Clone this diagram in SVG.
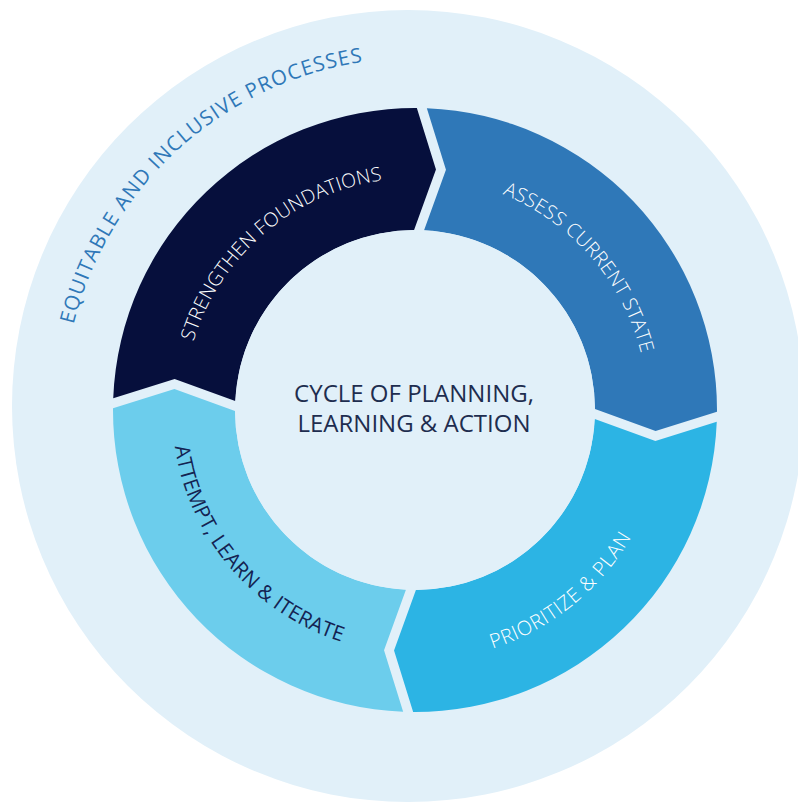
<svg xmlns="http://www.w3.org/2000/svg" xmlns:xlink="http://www.w3.org/1999/xlink" width="798" height="804" viewBox="0 0 798 804">
  <style>
    .bg { fill: #e1f0f9; }
    .s-found { fill: #060f3c; }
    .s-assess { fill: #2f78b8; }
    .s-prior { fill: #2cb4e4; }
    .s-attempt { fill: #6ccdec; }
    .lbl { font-family: "Open Sans", "Liberation Sans", sans-serif; font-size: 19.5px; }
    .light { fill: #ffffff; font-weight: 300; }
    .dark { fill: #142352; font-weight: 400; font-size: 20.5px; }
    .big { font-size: 20px; }
    .outer-lbl { font-family: "Open Sans", "Liberation Sans", sans-serif; font-size: 20.5px; fill: #2f78b8; }
    .center-lbl { font-family: "Open Sans", "Liberation Sans", sans-serif; font-size: 24px; fill: #1e2d4f; text-anchor: middle; }
  </style>
  <defs>
    <!-- one ring segment (quarter), drawn for the top-right quadrant around the origin:
         notch on the start edge, arrow tip on the clockwise end edge -->
    <path id="seg" d="M5,-301.96 A302,302 0 0 1 301.96,-5 L241,15.5 L179.93,-5 A180,180 0 0 0 5,-179.93 L25.5,-241 Z"/>
    <!-- label baselines -->
    <path id="arc-outer" d="M63.3,423.8 A352,352 0 0 1 462.5,61.2"/>
    <path id="arc-found" d="M183.0,412.0 A232,232 0 0 1 453.3,181.2"/>
    <path id="arc-assess" d="M410.9,177.0 A233,233 0 0 1 645.1,446.4"/>
    <path id="arc-prior" d="M366.0,656.2 A251,251 0 0 0 665.9,415.5"/>
    <path id="arc-attempt" d="M175.3,369.9 A243,243 0 0 0 417.1,653.0"/>
  </defs>

  <!-- outer band -->
  <g id="outer-band">
    <circle class="bg" cx="408" cy="406" r="396"/>
    <text class="outer-lbl"><textPath href="#arc-outer" startOffset="50%" text-anchor="middle" textLength="414" lengthAdjust="spacing">EQUITABLE AND INCLUSIVE PROCESSES</textPath></text>
  </g>

  <g id="strengthen-foundations">
    <use href="#seg" class="s-found" transform="translate(415 410) rotate(271.3)"/>
    <text class="lbl light"><textPath href="#arc-found" startOffset="50%" text-anchor="middle" textLength="262" lengthAdjust="spacing">STRENGTHEN FOUNDATIONS</textPath></text>
  </g>

  <g id="assess-current-state">
    <use href="#seg" class="s-assess" transform="translate(415 410) rotate(1.3)"/>
    <text class="lbl light"><textPath href="#arc-assess" startOffset="50%" text-anchor="middle" textLength="219" lengthAdjust="spacing">ASSESS CURRENT STATE</textPath></text>
  </g>

  <g id="prioritize-plan">
    <use href="#seg" class="s-prior" transform="translate(415 410) rotate(91.3)"/>
    <text class="lbl light big"><textPath href="#arc-prior" startOffset="50%" text-anchor="middle" textLength="182" lengthAdjust="spacing">PRIORITIZE &amp; PLAN</textPath></text>
  </g>

  <g id="attempt-learn-iterate">
    <use href="#seg" class="s-attempt" transform="translate(415 410) rotate(181.3)"/>
    <text class="lbl dark"><textPath href="#arc-attempt" startOffset="50%" text-anchor="middle" textLength="270" lengthAdjust="spacing">ATTEMPT, LEARN &amp; ITERATE</textPath></text>
  </g>

  <!-- hub -->
  <g id="hub">
    <circle class="bg" cx="415" cy="410" r="180"/>
    <text class="center-lbl" x="414" y="402">CYCLE OF PLANNING,</text>
    <text class="center-lbl" x="414" y="432">LEARNING &amp; ACTION</text>
  </g>
</svg>
